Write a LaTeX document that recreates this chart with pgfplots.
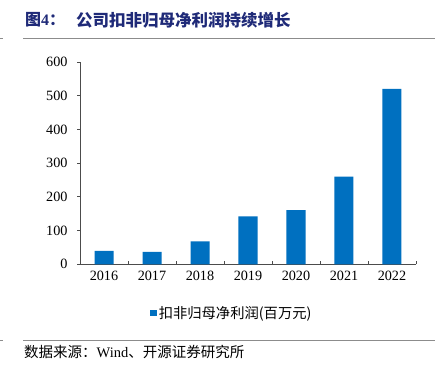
\documentclass[border=0pt]{standalone}
\usepackage{pgfplots}
\pgfplotsset{compat=1.18}
\usepackage{fontspec}
\setmainfont{Liberation Serif}
\newfontfamily\cjk{Noto Sans CJK SC}
\definecolor{barblue}{HTML}{0070C0}
\definecolor{titleblue}{HTML}{1F2A78}
\definecolor{rulegray}{HTML}{8C8C8C}
\begin{document}
\begin{tikzpicture}[x=1pt,y=1pt]
\useasboundingbox[fill=white] (0,0) rectangle (437,372);
% title
\node[anchor=west,text=titleblue,inner sep=0pt,font=\fontsize{16}{18}\selectfont\bfseries] at (25,352) {{\cjk 图}4{\cjk ：}};
\node[anchor=west,text=titleblue,inner sep=0pt,font=\fontsize{16.5}{18}\selectfont\bfseries\cjk] at (76,352) {公司扣非归母净利润持续增长};
\draw[rulegray,line width=1.5pt] (23,333.7) -- (435,333.7);
\draw[rulegray,line width=1pt] (0,333.7) -- (3,333.7);
\draw[rulegray,line width=1.5pt] (23,31.3) -- (435,31.3);
\draw[rulegray,line width=1pt] (0,31.3) -- (3,31.3);
\node[anchor=west,inner sep=0pt,font=\fontsize{14.5}{16}\selectfont] at (24,20) {{\cjk 数据来源：}Wind{\cjk 、开源证券研究所}};
\begin{axis}[
  at={(80pt,107.7pt)}, anchor=south west,
  scale only axis, width=336pt, height=202.3pt,
  ymin=0, ymax=600, ytick={0,100,...,600},
  xmin=-0.5, xmax=6.5,
  xtick={0,...,6}, xticklabels={2016,2017,2018,2019,2020,2021,2022},
  minor xtick={-0.5,0.5,...,6.5},
  axis x line*=bottom, axis y line*=left,
  axis line style={black!70,line width=0.8pt},
  x axis line style={-},
  y axis line style={-},
  major x tick style={draw=none},
  minor x tick style={black!70,line width=0.8pt},
  minor tick length=3pt,
  y tick style={black!70,line width=0.8pt},
  major tick length=3pt,
  xtick align=inside, ytick align=outside,
  tick label style={font=\fontsize{14.2}{16}\selectfont},
  /pgf/number format/assume math mode=true,
  yticklabel style={xshift=-6pt},
  xticklabel style={yshift=-3pt},
  legend style={at={(0.452,-0.241)},anchor=center,draw=none,fill=none,
    font=\fontsize{14.3}{16}\selectfont\cjk, inner sep=0pt},
  legend image code/.code={\fill[barblue] (0pt,-3.2pt) rectangle (6.5pt,3.2pt);},
]
\addplot[ybar, bar width=19pt, fill=barblue, draw=none] coordinates {
(0,40) (1,37) (2,68) (3,142) (4,161) (5,260) (6,520)};
\addlegendentry{扣非归母净利润(百万元)}
\end{axis}
\end{tikzpicture}
\end{document}
